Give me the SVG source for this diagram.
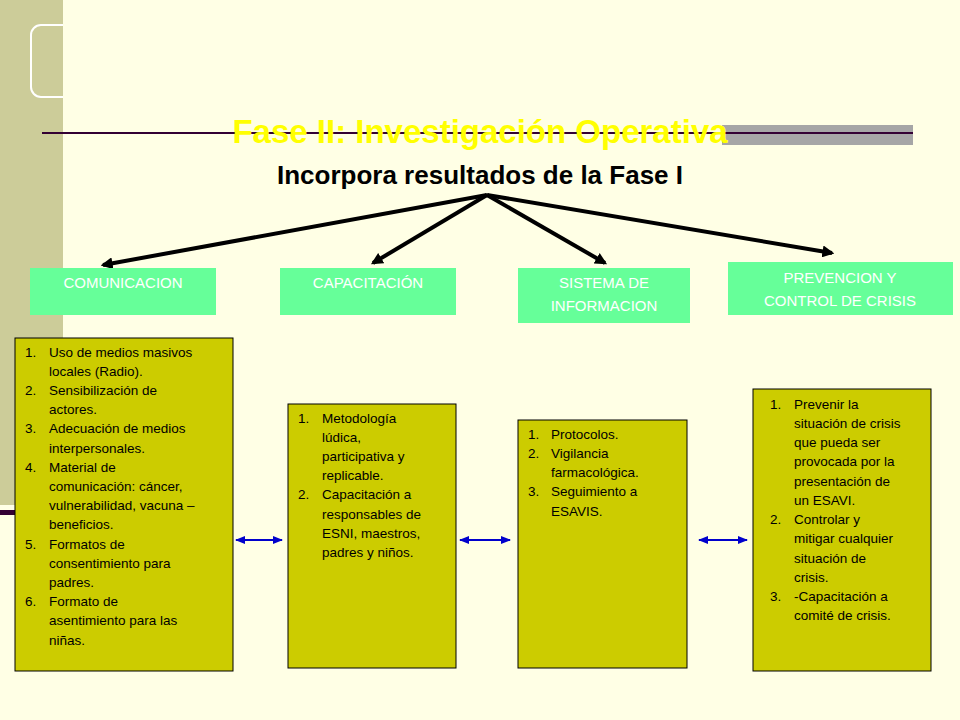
<svg xmlns="http://www.w3.org/2000/svg" width="960" height="720" viewBox="0 0 960 720">
<style>
.g{fill:#66ff99}
.gt{font-family:"Liberation Sans",Arial,sans-serif;font-size:15px;fill:#fff;text-anchor:middle}
.b{fill:#cccc00;stroke:#000;stroke-width:1}
.t{font-family:"Liberation Sans",Arial,sans-serif;font-size:13.5px;fill:#000}
.k{stroke:#000;stroke-width:4;fill:none}
.bl{stroke:#0000cc;stroke-width:2;fill:none}
</style>
<defs>
<marker id="ah" viewBox="0 0 10 10" refX="8" refY="5" markerWidth="3" markerHeight="3" orient="auto"><path d="M0,0L10,5L0,10z" fill="#000"/></marker>
<marker id="bh" viewBox="0 0 10 10" refX="9" refY="5" markerWidth="5" markerHeight="5" orient="auto-start-reverse"><path d="M0,1L10,5L0,9z" fill="#0000cc"/></marker>
</defs>
<rect width="960" height="720" fill="#ffffe5"/>
<rect x="0" y="0" width="63" height="505" fill="#cccc99"/>
<rect x="0" y="510" width="15" height="5" fill="#330033"/>
<rect x="31" y="25" width="50" height="72" rx="10" fill="none" stroke="#fff" stroke-width="2"/>
<rect x="63" y="0" width="30" height="110" fill="#ffffe5"/>
<rect x="722" y="125" width="191" height="20" fill="#a6a6a6"/>
<line x1="42" y1="133" x2="913" y2="133" stroke="#330033" stroke-width="2"/>
<text x="480" y="143" text-anchor="middle" font-family="Liberation Sans,Arial,sans-serif" font-weight="bold" font-size="33" fill="#ffff00">Fase II: Investigación Operativa</text>
<text x="480" y="184" text-anchor="middle" font-family="Liberation Sans,Arial,sans-serif" font-weight="bold" font-size="26" fill="#000">Incorpora resultados de la Fase I</text>
<g id="connectors">
<line class="k" x1="487" y1="195" x2="103" y2="265" marker-end="url(#ah)"/>
<line class="k" x1="487" y1="195" x2="373" y2="263" marker-end="url(#ah)"/>
<line class="k" x1="487" y1="195" x2="605" y2="263" marker-end="url(#ah)"/>
<line class="k" x1="487" y1="195" x2="832" y2="253" marker-end="url(#ah)"/>
<line class="bl" x1="236" y1="540" x2="282" y2="540" marker-start="url(#bh)" marker-end="url(#bh)"/>
<line class="bl" x1="460" y1="540" x2="510" y2="540" marker-start="url(#bh)" marker-end="url(#bh)"/>
<line class="bl" x1="699" y1="540" x2="747" y2="540" marker-start="url(#bh)" marker-end="url(#bh)"/>
</g>
<g id="comunicacion"><rect class="g" x="30" y="268" width="186" height="47"/><text class="gt" x="123" y="288">COMUNICACION</text></g>
<g id="capacitacion"><rect class="g" x="280" y="268" width="176" height="47"/><text class="gt" x="368" y="288">CAPACITACIÓN</text></g>
<g id="sistema"><rect class="g" x="518" y="268" width="172" height="55"/><text class="gt" x="604" y="288">SISTEMA DE</text><text class="gt" x="604" y="311">INFORMACION</text></g>
<g id="prevencion"><rect class="g" x="728" y="262" width="225" height="53"/><text class="gt" x="840" y="283">PREVENCION Y</text><text class="gt" x="840" y="306">CONTROL DE CRISIS</text></g>
<g id="box1"><rect class="b" x="15" y="338" width="218" height="333"/>
<text class="t"><tspan x="25" y="357">1.</tspan><tspan x="49" y="357">Uso de medios masivos</tspan><tspan x="49" y="376">locales (Radio).</tspan><tspan x="25" y="395">2.</tspan><tspan x="49" y="395">Sensibilización de</tspan><tspan x="49" y="414">actores.</tspan><tspan x="25" y="433">3.</tspan><tspan x="49" y="433">Adecuación de medios</tspan><tspan x="49" y="453">interpersonales.</tspan><tspan x="25" y="472">4.</tspan><tspan x="49" y="472">Material de</tspan><tspan x="49" y="491">comunicación: cáncer,</tspan><tspan x="49" y="510">vulnerabilidad, vacuna –</tspan><tspan x="49" y="529">beneficios.</tspan><tspan x="25" y="549">5.</tspan><tspan x="49" y="549">Formatos de</tspan><tspan x="49" y="568">consentimiento para</tspan><tspan x="49" y="587">padres.</tspan><tspan x="25" y="606">6.</tspan><tspan x="49" y="606">Formato de</tspan><tspan x="49" y="625">asentimiento para las</tspan><tspan x="49" y="645">niñas.</tspan></text></g>
<g id="box2"><rect class="b" x="288" y="404" width="168" height="264"/>
<text class="t"><tspan x="298" y="423">1.</tspan><tspan x="322" y="423">Metodología</tspan><tspan x="322" y="442">lúdica,</tspan><tspan x="322" y="461">participativa y</tspan><tspan x="322" y="480">replicable.</tspan><tspan x="298" y="499">2.</tspan><tspan x="322" y="499">Capacitación a</tspan><tspan x="322" y="519">responsables de</tspan><tspan x="322" y="538">ESNI, maestros,</tspan><tspan x="322" y="557">padres y niños.</tspan></text></g>
<g id="box3"><rect class="b" x="518" y="420" width="169" height="248"/>
<text class="t"><tspan x="528" y="439">1.</tspan><tspan x="551" y="439">Protocolos.</tspan><tspan x="528" y="458">2.</tspan><tspan x="551" y="458">Vigilancia</tspan><tspan x="551" y="477">farmacológica.</tspan><tspan x="528" y="496">3.</tspan><tspan x="551" y="496">Seguimiento a</tspan><tspan x="551" y="516">ESAVIS.</tspan></text></g>
<g id="box4"><rect class="b" x="753" y="389" width="178" height="282"/>
<text class="t"><tspan x="770" y="409">1.</tspan><tspan x="794" y="409">Prevenir la</tspan><tspan x="794" y="428">situación de crisis</tspan><tspan x="794" y="447">que pueda ser</tspan><tspan x="794" y="466">provocada por la</tspan><tspan x="794" y="486">presentación de</tspan><tspan x="794" y="505">un ESAVI.</tspan><tspan x="770" y="524">2.</tspan><tspan x="794" y="524">Controlar y</tspan><tspan x="794" y="543">mitigar cualquier</tspan><tspan x="794" y="563">situación de</tspan><tspan x="794" y="582">crisis.</tspan><tspan x="770" y="601">3.</tspan><tspan x="794" y="601">-Capacitación a</tspan><tspan x="794" y="620">comité de crisis.</tspan></text></g>
</svg>
